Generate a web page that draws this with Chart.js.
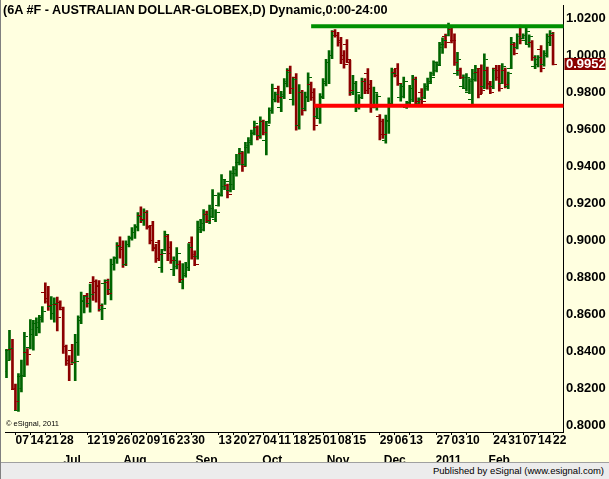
<!DOCTYPE html>
<html>
<head>
<meta charset="utf-8">
<script src="https://cdn.jsdelivr.net/npm/chart.js@4.4.1/dist/chart.umd.min.js"></script>
<style>
  html, body { margin: 0; padding: 0; background: #fff; }
  #wrap { position: relative; width: 609px; height: 479px; background: #ffffe0; overflow: hidden;
    font-family: 'Liberation Sans', Arial, sans-serif; color: #000; }
  #c { position: absolute; left: 0; top: 0; }
  #title { position: absolute; left: 3px; top: 3px; font-weight: bold; font-size: 12.7px; line-height: 14px; white-space: nowrap; }
  #copy { position: absolute; left: 6px; top: 419px; font-size: 7.5px; line-height: 9px; white-space: nowrap; }
  #foot { position: absolute; left: 0; top: 462px; width: 609px; height: 17px; background: #ececec; border-top: 1px solid #a0a0a0;
    box-sizing: border-box; text-align: right; padding-right: 5px; font-size: 9.5px; line-height: 16px; }
  #edge { position: absolute; left: 0; top: 0; width: 1px; height: 479px; background: #808080; }
</style>
</head>
<body>
<div id="wrap">
  <canvas id="c" width="609" height="463"></canvas>
  <div id="title">(6A #F - AUSTRALIAN DOLLAR-GLOBEX,D) Dynamic,0:00-24:00</div>
  <div id="copy">© eSignal, 2011</div>
  <div id="foot">Published by eSignal (www.esignal.com)</div>
  <div id="edge"></div>
</div>
<script>
// daily sessions, Jun 2 2010 .. Feb 22 2011
const dates = [
  '2010-06-02','2010-06-03','2010-06-04','2010-06-07','2010-06-08','2010-06-09','2010-06-10','2010-06-11','2010-06-14','2010-06-15',
  '2010-06-16','2010-06-17','2010-06-18','2010-06-21','2010-06-22','2010-06-23','2010-06-24','2010-06-25','2010-06-28','2010-06-29',
  '2010-06-30','2010-07-01','2010-07-02','2010-07-06','2010-07-07','2010-07-08','2010-07-09','2010-07-12','2010-07-13','2010-07-14',
  '2010-07-15','2010-07-16','2010-07-19','2010-07-20','2010-07-21','2010-07-22','2010-07-23','2010-07-26','2010-07-27','2010-07-28',
  '2010-07-29','2010-07-30','2010-08-02','2010-08-03','2010-08-04','2010-08-05','2010-08-06','2010-08-09','2010-08-10','2010-08-11',
  '2010-08-12','2010-08-13','2010-08-16','2010-08-17','2010-08-18','2010-08-19','2010-08-20','2010-08-23','2010-08-24','2010-08-25',
  '2010-08-26','2010-08-27','2010-08-30','2010-08-31','2010-09-01','2010-09-02','2010-09-03','2010-09-07','2010-09-08','2010-09-09',
  '2010-09-10','2010-09-13','2010-09-14','2010-09-15','2010-09-16','2010-09-17','2010-09-20','2010-09-21','2010-09-22','2010-09-23',
  '2010-09-24','2010-09-27','2010-09-28','2010-09-29','2010-09-30','2010-10-01','2010-10-04','2010-10-05','2010-10-06','2010-10-07',
  '2010-10-08','2010-10-11','2010-10-12','2010-10-13','2010-10-14','2010-10-15','2010-10-18','2010-10-19','2010-10-20','2010-10-21',
  '2010-10-22','2010-10-25','2010-10-26','2010-10-27','2010-10-28','2010-10-29','2010-11-01','2010-11-02','2010-11-03','2010-11-04',
  '2010-11-05','2010-11-08','2010-11-09','2010-11-10','2010-11-11','2010-11-12','2010-11-15','2010-11-16','2010-11-17','2010-11-18',
  '2010-11-19','2010-11-22','2010-11-23','2010-11-24','2010-11-26','2010-11-29','2010-11-30','2010-12-01','2010-12-02','2010-12-03',
  '2010-12-06','2010-12-07','2010-12-08','2010-12-09','2010-12-10','2010-12-13','2010-12-14','2010-12-15','2010-12-16','2010-12-17',
  '2010-12-20','2010-12-21','2010-12-22','2010-12-23','2010-12-27','2010-12-28','2010-12-29','2010-12-30','2010-12-31','2011-01-03',
  '2011-01-04','2011-01-05','2011-01-06','2011-01-07','2011-01-10','2011-01-11','2011-01-12','2011-01-13','2011-01-14','2011-01-18',
  '2011-01-19','2011-01-20','2011-01-21','2011-01-24','2011-01-25','2011-01-26','2011-01-27','2011-01-28','2011-01-31','2011-02-01',
  '2011-02-02','2011-02-03','2011-02-04','2011-02-07','2011-02-08','2011-02-09','2011-02-10','2011-02-11','2011-02-14','2011-02-15',
  '2011-02-16','2011-02-17','2011-02-18','2011-02-22'
];

const open = [
  .8288,.8401,.8410,.8193,.8081,.8260,.8267,.8391,.8419,.8489, .8552,.8527,.8584,.8717,.8683,.8641,.8606,.8652,.8665,.8627,
  .8423,.8348,.8405,.8337,.8444,.8566,.8670,.8699,.8659,.8772, .8778,.8749,.8623,.8767,.8772,.8734,.8871,.8907,.8969,.8951,
  .8867,.8978,.9014,.9040,.9070,.9135,.9105,.9150,.9070,.9080, .8960,.8985,.8850,.8950,.9020,.8960,.8840,.8860,.8870,.8770,
  .8820,.8850,.8990,.8920,.8910,.9060,.9060,.9140,.9100,.9130, .9110,.9190,.9245,.9290,.9295,.9270,.9300,.9360,.9420,.9470,
  .9410,.9500,.9530,.9580,.9610,.9565,.9640,.9540,.9640,.9700, .9760,.9820,.9720,.9780,.9850,.9920,.9760,.9880,.9620,.9800,
  .9710,.9770,.9840,.9800,.9670,.9660,.9780,.9850,.9960,1.0000, 1.0130,1.0110,1.0080,1.0000,1.0060,.9960,.9800,.9730,.9720,.9770,
  .9860,.9900,.9840,.9730,.9720,.9670,.9640,.9540,.9640,.9740, .9910,.9930,.9770,.9780,.9720,.9740,.9760,.9870,.9740,.9800,
  .9770,.9820,.9850,.9900,.9920,.9950,1.0040,1.0100,1.0110,1.0140, 1.0080,.9900,.9920,.9830,.9820,.9800,.9760,.9870,.9910,.9930,
  .9830,.9920,.9850,.9830,.9930,.9920,.9850,.9920,.9830,.9930, 1.0060,1.0040,1.0150,1.0090,1.0080,1.0060,1.0070,.9940,.9950,1.0030,
  .9950,1.0000,1.0070,1.0110
];
const high = [
  .8410,.8512,.8464,.8222,.8279,.8351,.8502,.8414,.8570,.8566, .8580,.8593,.8641,.8770,.8751,.8695,.8688,.8692,.8672,.8638,
  .8432,.8376,.8437,.8491,.8591,.8720,.8699,.8713,.8763,.8803, .8785,.8781,.8656,.8785,.8790,.8898,.8910,.8987,.9018,.8996,
  .8996,.9023,.9068,.9085,.9150,.9180,.9170,.9160,.9080,.9102, .8978,.8999,.8951,.9050,.9032,.8993,.8910,.8960,.8889,.8874,
  .8880,.8982,.9018,.8942,.9104,.9113,.9166,.9157,.9190,.9274, .9166,.9256,.9355,.9328,.9304,.9376,.9399,.9465,.9497,.9480,
  .9530,.9555,.9596,.9645,.9619,.9668,.9650,.9641,.9716,.9845, .9802,.9834,.9806,.9874,.9928,.9942,.9883,.9901,.9842,.9811,
  .9802,.9905,.9856,.9820,.9734,.9793,.9874,.9978,1.0026,1.0134, 1.0139,1.0125,1.0098,1.0026,1.0085,.9973,.9892,.9860,.9788,.9877,
  .9874,.9928,.9865,.9829,.9793,.9680,.9655,.9677,.9770,.9931, .9924,.9955,.9847,.9883,.9752,.9838,.9892,.9883,.9770,.9820,
  .9847,.9877,.9910,.9970,.9965,1.0070,1.0095,1.0115,1.0175,1.0160, 1.0116,1.0017,.9931,.9895,.9901,.9874,.9924,.9946,.9928,.9949,
  1.0008,.9937,.9860,.9931,.9946,.9946,.9955,.9931,.9910,1.0098, 1.0068,1.0116,1.0164,1.0116,1.0152,1.0111,1.0080,.9999,.9999,1.0053,
  1.0026,1.0116,1.0134,1.0125
];
const low = [
  .8256,.8351,.8193,.8081,.8073,.8179,.8261,.8324,.8412,.8405, .8484,.8498,.8557,.8659,.8620,.8572,.8557,.8509,.8623,.8387,
  .8322,.8240,.8333,.8240,.8376,.8548,.8606,.8638,.8611,.8674, .8665,.8616,.8570,.8652,.8706,.8677,.8838,.8874,.8903,.8853,
  .8862,.8964,.9000,.9010,.9050,.9095,.9080,.9060,.8980,.8942, .8880,.8889,.8826,.8942,.8889,.8874,.8808,.8844,.8772,.8736,
  .8800,.8835,.8898,.8862,.8898,.9041,.9050,.9095,.9089,.9122, .9100,.9184,.9238,.9274,.9229,.9261,.9274,.9346,.9408,.9372,
  .9399,.9471,.9516,.9569,.9542,.9551,.9569,.9462,.9632,.9686, .9748,.9745,.9695,.9766,.9829,.9793,.9731,.9596,.9601,.9677,
  .9700,.9750,.9757,.9596,.9659,.9632,.9766,.9835,.9847,.9982, 1.0098,1.0050,.9955,.9931,.9963,.9784,.9788,.9695,.9709,.9766,
  .9793,.9793,.9691,.9716,.9704,.9542,.9551,.9525,.9578,.9731, .9883,.9838,.9752,.9770,.9713,.9731,.9749,.9734,.9731,.9739,
  .9766,.9811,.9847,.9890,.9910,.9949,1.0010,1.0040,1.0105,1.0068, .9946,.9892,.9874,.9824,.9806,.9793,.9734,.9860,.9770,.9793,
  .9820,.9817,.9793,.9820,.9865,.9806,.9847,.9824,.9820,.9928, 1.0003,1.0035,1.0062,1.0089,1.0062,1.0044,.9973,.9928,.9937,.9910,
  .9942,.9990,1.0053,.9949
];
const close = [
  .8351,.8414,.8199,.8129,.8199,.8265,.8477,.8384,.8518,.8548, .8557,.8570,.8615,.8670,.8645,.8652,.8656,.8584,.8638,.8423,
  .8333,.8330,.8337,.8342,.8580,.8674,.8695,.8683,.8706,.8718, .8754,.8647,.8630,.8781,.8709,.8871,.8903,.8966,.8960,.8871,
  .8978,.9011,.9041,.9075,.9130,.9110,.9150,.9075,.9000,.8955, .8900,.8920,.8930,.9030,.8930,.8890,.8890,.8930,.8790,.8810,
  .8850,.8960,.8910,.8870,.9070,.9090,.9140,.9105,.9170,.9240, .9150,.9240,.9330,.9315,.9245,.9360,.9380,.9420,.9480,.9400,
  .9515,.9540,.9585,.9630,.9560,.9640,.9585,.9620,.9700,.9820, .9790,.9770,.9790,.9860,.9910,.9820,.9870,.9620,.9800,.9700,
  .9780,.9880,.9770,.9620,.9720,.9770,.9860,.9960,1.0000,1.0110, 1.0110,1.0070,.9980,.9950,.9980,.9810,.9850,.9800,.9770,.9860,
  .9810,.9820,.9720,.9800,.9780,.9570,.9570,.9650,.9740,.9900, .9890,.9850,.9830,.9860,.9745,.9820,.9870,.9750,.9760,.9750,
  .9830,.9860,.9880,.9960,.9945,1.0060,1.0080,1.0070,1.0160,1.0080, .9960,.9980,.9880,.9880,.9880,.9860,.9900,.9930,.9790,.9810,
  .9980,.9840,.9800,.9920,.9880,.9820,.9940,.9840,.9900,1.0070, 1.0010,1.0100,1.0080,1.0110,1.0130,1.0100,.9990,.9980,.9990,.9930,
  1.0010,1.0100,1.0120,.9952
];

// axis labels
const dayTicks = [
  '2010-06-07','2010-06-14','2010-06-21','2010-06-28','2010-07-12','2010-07-19','2010-07-26','2010-08-02','2010-08-09','2010-08-16',
  '2010-08-23','2010-08-30','2010-09-13','2010-09-20','2010-09-27','2010-10-04','2010-10-11','2010-10-18','2010-10-25','2010-11-01',
  '2010-11-08','2010-11-15','2010-11-29','2010-12-06','2010-12-13','2010-12-27','2011-01-03','2011-01-10','2011-01-24','2011-01-31',
  '2011-02-07','2011-02-14','2011-02-22'
];
const monthTicks = [
  ['2010-07-02', 'Jul'], ['2010-08-03', 'Aug'], ['2010-09-07', 'Sep'], ['2010-10-07', 'Oct'],
  ['2010-11-08', 'Nov'], ['2010-12-06', 'Dec'], ['2010-12-31', '2011'], ['2011-01-26', 'Feb']
];
const priceTicks = [0.80, 0.82, 0.84, 0.86, 0.88, 0.90, 0.92, 0.94, 0.96, 0.98, 1.00, 1.02];

// drawn trend lines
const resistance = { from: '2010-10-26', level: 1.0157 };
const support = { from: '2010-10-27', level: 0.9727 };

const UP = '#006400', DN = '#8b0000';
const F = "'Liberation Sans', Arial, sans-serif";
const idx = d => dates.indexOf(d);
const isUp = i => close[i] >= open[i];
const lastPrice = close[close.length - 1];

// little open / close ticks, used as point images
function tickImg(col, left) {
  const c = document.createElement('canvas');
  c.width = 8; c.height = 1;
  const g = c.getContext('2d');
  g.fillStyle = col; g.fillRect(left ? 0 : 5, 0, 3, 1);
  return c;
}
const TK = { ul: tickImg(UP, true), ur: tickImg(UP, false), dl: tickImg(DN, true), dr: tickImg(DN, false) };

const lastBox = {
  id: 'lastBox',
  afterDraw(chart) {
    const ys = chart.scales.y, ctx = chart.ctx;
    const y = Math.round(ys.getPixelForValue(lastPrice));
    ctx.save();
    ctx.fillStyle = '#8b0000';
    ctx.fillRect(ys.left + 1, y - 6, 41, 12);
    ctx.fillStyle = '#fff';
    ctx.font = 'bold 13px ' + F;
    ctx.textBaseline = 'middle';
    ctx.fillText(lastPrice.toFixed(4), ys.left + 2.5, y + 0.5);
    ctx.restore();
  }
};

const levelLine = (lv, col) => ({
  type: 'line', order: 1, clip: 0,
  data: [{ x: idx(lv.from), y: lv.level }, { x: dates.length + 10, y: lv.level }],
  borderColor: col, borderWidth: 4, borderCapStyle: 'butt', pointRadius: 0
});

new Chart(document.getElementById('c'), {
  type: 'bar',
  data: {
    datasets: [
      levelLine(resistance, '#009000'),
      levelLine(support, '#ff0000'),
      { type: 'line', order: 2, showLine: false, pointRadius: 2,
        data: dates.map((d, i) => ({ x: i, y: open[i] })),
        pointStyle: c => isUp(c.dataIndex) ? TK.ul : TK.dl },
      { type: 'line', order: 2, showLine: false, pointRadius: 2,
        data: dates.map((d, i) => ({ x: i, y: close[i] })),
        pointStyle: c => isUp(c.dataIndex) ? TK.ur : TK.dr },
      { type: 'bar', order: 3, grouped: false, barThickness: 2, borderWidth: 0,
        data: dates.map((d, i) => ({ x: i, y: [low[i], high[i]] })),
        backgroundColor: c => isUp(c.dataIndex) ? UP : DN }
    ]
  },
  options: {
    responsive: false, animation: false, events: [],
    layout: { padding: { left: 2.5, right: 0, top: 0, bottom: 0 } },
    plugins: { legend: { display: false }, tooltip: { enabled: false } },
    scales: {
      x: {
        type: 'linear', position: 'bottom', min: -0.5, max: dates.length + 2.5, offset: false,
        afterBuildTicks: a => { a.ticks = dayTicks.map(d => ({ value: idx(d) })); },
        afterFit: a => { a.height = 15; },
        grid: { display: true, offset: false, drawOnChartArea: false, drawTicks: true, tickLength: 3, color: '#000' },
        border: { display: true, color: '#000', width: 1 },
        ticks: { autoSkip: false, maxRotation: 0, align: 'start', padding: 0, color: '#000',
          font: { family: F, size: 12, weight: 'bold', lineHeight: 1 },
          callback: v => dates[v].slice(8) }
      },
      xm: {
        type: 'linear', position: 'bottom', min: -0.5, max: dates.length + 2.5, offset: false,
        afterBuildTicks: a => { a.ticks = monthTicks.map(m => ({ value: idx(m[0]) })); },
        afterFit: a => { a.height = 16; },
        grid: { display: false, offset: false }, border: { display: false },
        ticks: { autoSkip: false, maxRotation: 0, padding: 0, color: '#000',
          font: { family: F, size: 12, weight: 'bold', lineHeight: 1 },
          callback: (v, i) => monthTicks[i][1] }
      },
      y: {
        type: 'linear', position: 'right', min: 0.79623, max: 1.02726,
        afterBuildTicks: a => { a.ticks = priceTicks.map(v => ({ value: v })); },
        afterFit: a => { a.width = 45.5; },
        grid: { display: false, drawTicks: false },
        border: { display: true, color: '#000', width: 1 },
        ticks: { padding: 2.5, color: '#000', font: { family: F, size: 13, weight: 'bold', lineHeight: 0 },
          callback: v => v.toFixed(4) }
      }
    }
  },
  plugins: [lastBox]
});
</script>
</body>
</html>
